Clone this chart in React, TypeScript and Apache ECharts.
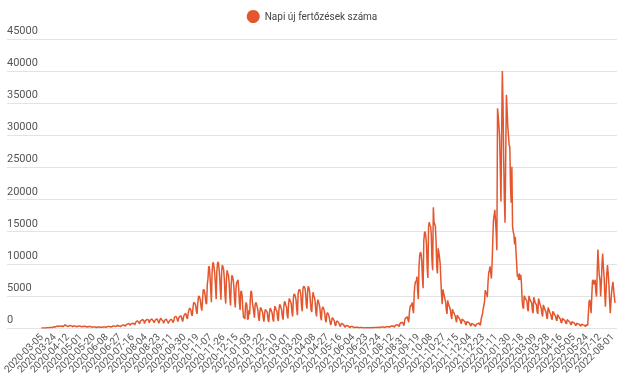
import React, { useEffect, useRef } from "react";
import * as echarts from "echarts";

const SERIES_NAME = "Napi új fertőzések száma";
const LABEL_EVERY = 19;

// 2020-03-05 .. 2020-12-30 (daily)
const wave2020 = [
  3, 4, 6, 7, 10, 15, 17,
  25, 40, 45, 40, 30, 61, 60,
  68, 70, 66, 134, 143, 186, 144,
  123, 263, 293, 192, 308, 254, 250,
  321, 292, 223, 337, 193, 331, 431,
  523, 360, 356, 324, 197, 203, 350,
  400, 332, 305, 296, 162, 329, 303,
  298, 316, 240, 190, 190, 280, 320,
  325, 315, 225, 168, 190, 275, 250,
  240, 280, 220, 190, 150, 200, 250,
  190, 220, 250, 200, 110, 140, 165,
  150, 150, 150, 140, 90, 110, 160,
  180, 160, 140, 115, 110, 130, 160,
  180, 170, 190, 150, 120, 180, 220,
  250, 270, 240, 200, 150, 190, 230,
  320, 330, 300, 250, 220, 300, 460,
  320, 350, 340, 290, 200, 330, 420,
  450, 480, 440, 360, 300, 500, 550,
  600, 650, 690, 580, 430, 600, 650,
  700, 770, 780, 620, 520, 850, 990,
  1100, 1050, 1000, 800, 650, 1100, 1150,
  1200, 1350, 1250, 1150, 690, 1000, 1200,
  1200, 1350, 1300, 1200, 800, 1100, 1300,
  1350, 1400, 1200, 1100, 820, 1050, 1250,
  1350, 1400, 1300, 1050, 750, 1050, 1400,
  1500, 1300, 1200, 1100, 750, 1000, 1250,
  1300, 1400, 1150, 1000, 700, 1000, 1150,
  1300, 1350, 1250, 1050, 850, 1150, 1700,
  1700, 1800, 1650, 1300, 1000, 1500, 1750,
  1800, 1900, 1750, 1300, 1000, 1600, 2000,
  2100, 2300, 2100, 1600, 1400, 2300, 2700,
  3100, 3000, 2800, 2100, 1900, 3100, 4000,
  4000, 3800, 3500, 2600, 2200, 3800, 4800,
  5000, 4700, 4200, 3200, 2700, 4300, 5900,
  6000, 5600, 5000, 3900, 3700, 6800, 7700,
  9500, 9600, 8000, 6000, 4000, 8600, 10100,
  10200, 10200, 8400, 6500, 4500, 8800, 10100,
  10300, 9500, 8100, 6000, 4400, 8800, 9800,
  9500, 9000, 7500, 5000, 3800, 7500, 9000,
  8500, 8200, 7000, 4800, 3500, 6800, 8200,
  8000, 7500, 6200, 4300, 3200, 6200, 7100,
  7200, 7500, 6000, 4000, 2800, 5600, 5800,
  5000, 3000, 1700, 1600, 1400, 3500, 4000,
];

// 2020-12-31 .. 2021-06-23 (daily)
const wave2021Spring = [
  3500, 1300, 1500, 2800, 2100, 4500, 5800,
  5500, 4000, 3300, 2500, 1600, 3500, 4000,
  3800, 3300, 2800, 1700, 1100, 2500, 3200,
  3000, 2700, 2400, 1500, 1000, 2300, 2900,
  2700, 2600, 2300, 1200, 950, 2400, 3100,
  2900, 2600, 2300, 1400, 1000, 2600, 3400,
  3100, 2800, 2600, 1500, 1100, 3000, 3700,
  3500, 3100, 2700, 1700, 1300, 3300, 4100,
  4000, 3500, 3300, 2000, 1500, 3700, 4600,
  4600, 4100, 3700, 2400, 1800, 4600, 5300,
  5200, 4900, 4300, 2900, 2000, 5400, 5900,
  6000, 5800, 5100, 3400, 2600, 6000, 6500,
  6400, 6200, 5300, 3600, 3000, 5900, 6500,
  6200, 5500, 4000, 2800, 2500, 4600, 5600,
  5000, 4700, 4000, 2400, 1800, 3800, 4400,
  4000, 3600, 3000, 1700, 1200, 2900, 3300,
  3100, 2800, 2200, 1200, 900, 2100, 2400,
  2200, 1900, 1400, 700, 500, 1100, 1600,
  1500, 1300, 1100, 500, 350, 900, 1100,
  1000, 900, 700, 350, 250, 600, 700,
  650, 550, 450, 200, 150, 350, 400,
  380, 330, 250, 120, 90, 220, 230,
  230, 200, 150, 70, 40, 120, 140,
  130, 110, 80, 40, 25, 70, 80,
  75, 65, 50, 25, 15, 50, 55,
];

// irregular reporting days, 2021-06-24 .. 2021-07-23
const summer2021 = [45, 40, 50, 30, 45, 50, 55, 40, 60, 70, 55, 75, 80, 60, 90, 100, 75, 110];

// 2021-07-24 .. 2021-12-22 (daily)
const wave2021Autumn = [
  120, 80, 50, 130, 150, 150, 140,
  160, 110, 70, 170, 210, 220, 200,
  230, 160, 100, 250, 300, 310, 290,
  340, 230, 140, 380, 460, 480, 450,
  520, 350, 220, 650, 820, 860, 800,
  900, 600, 380, 1150, 1500, 1650, 1600,
  1750, 1200, 900, 2500, 3300, 3600, 3400,
  4000, 2900, 2300, 5500, 6700, 7300, 7200,
  8000, 5800, 4500, 9500, 11300, 11800, 11600,
  10500, 7800, 6200, 13500, 14800, 15000, 14200,
  13000, 9300, 7800, 15800, 16500, 16000, 15800,
  14500, 10500, 9000, 18800, 16500, 16500, 15800,
  13500, 9500, 8500, 12400, 11800, 11000, 10000,
  7500, 5200, 3700, 6000, 5500, 5000, 4500,
  4000, 2800, 2200, 4300, 3800, 3500, 3200,
  2800, 1900, 1400, 2900, 2600, 2400, 2100,
  1900, 1300, 900, 2000, 1800, 1600, 1500,
  1300, 900, 650, 1400, 1300, 1200, 1100,
  1000, 650, 450, 1000, 950, 900, 850,
  700, 450, 300, 700, 650, 600, 550,
  500, 330, 250, 600, 620, 650, 700,
  800, 500, 450, 1400, 1800, 2200, 3000,
];

// 2021-12-23 .. 2022-02-16 (daily)
const omicronWave = [
  3500, 4200, 5900, 5500, 5300, 4800, 7000,
  8500, 9000, 9600, 9600, 7700, 10000, 13500,
  16800, 17500, 18400, 18400, 15000, 12100, 34200,
  33000, 31600, 29800, 25000, 19700, 30000, 40000,
  35000, 26200, 20000, 16400, 27000, 36300, 34000,
  31400, 30000, 28500, 28200, 22000, 19500, 25100,
  15800, 15000, 14500, 13000, 14200, 12000, 10000,
  8000, 8300, 7500, 8500, 7500, 8300, 7000,
];

// 2022-02-17 .. 2022-05-24 (daily)
const spring2022 = [
  4400, 3300, 3000, 5000, 4800, 4500, 4400,
  4200, 3000, 2600, 5000, 4600, 4300, 4100,
  3900, 2700, 2300, 4800, 4400, 4000, 3800,
  3600, 2500, 2200, 4600, 4200, 3800, 3400,
  3100, 2200, 1800, 3600, 3300, 3000, 2700,
  2500, 1700, 1400, 3200, 2900, 2600, 2300,
  2100, 1500, 1300, 2600, 2400, 2200, 2000,
  1800, 1300, 1100, 2100, 1900, 1700, 1500,
  1400, 900, 800, 1500, 1400, 1300, 1200,
  1100, 750, 650, 1300, 1200, 1100, 1000,
  900, 600, 500, 1000, 900, 850, 800,
  700, 450, 380, 750, 700, 650, 600,
  550, 350, 300, 600, 550, 500, 480,
  450, 280, 220, 500,
];

// 2022-05-25 .. 2022-08-05 (irregular)
const summer2022 = [
  450, 400, 380, 4100, 4400, 3500, 2300,
  5000, 7300, 7500, 6800, 7000, 7500, 5500,
  4900, 9000, 12200, 10000, 8200, 7500, 4900,
  7000, 10000, 11600, 9500, 8000, 5500, 3300,
  6000, 8500, 9800, 8500, 7000, 4500, 2300,
  4000, 5500, 6500, 7200, 6000, 4900, 3900,
];

const gapDates2021 = [
  "2021-06-24", "2021-06-25", "2021-06-28", "2021-06-29", "2021-06-30", "2021-07-01",
  "2021-07-02", "2021-07-05", "2021-07-06", "2021-07-07", "2021-07-08", "2021-07-09",
  "2021-07-12", "2021-07-14", "2021-07-16", "2021-07-19", "2021-07-21", "2021-07-23",
];
const gapDates2022 = [
  "2022-05-25", "2022-05-26", "2022-05-27", "2022-05-31", "2022-06-03", "2022-06-07",
  "2022-06-10", "2022-06-14", "2022-06-17", "2022-06-21", "2022-06-24", "2022-06-28",
  "2022-07-01", "2022-07-04", "2022-07-05", "2022-07-06", "2022-07-07", "2022-07-11",
];
const julyAugDates2022 = [
  "2022-07-12", "2022-07-13", "2022-07-14", "2022-07-15", "2022-07-16", "2022-07-17",
  "2022-07-18", "2022-07-19", "2022-07-20", "2022-07-21", "2022-07-22", "2022-07-23",
  "2022-07-25", "2022-07-26", "2022-07-27", "2022-07-28", "2022-07-29", "2022-07-30",
  "2022-07-31", "2022-08-01", "2022-08-02", "2022-08-03", "2022-08-04", "2022-08-05",
];

function dailyDates(start: string, count: number): string[] {
  const out: string[] = [];
  const t0 = Date.parse(start + "T00:00:00Z");
  for (let i = 0; i < count; i++) {
    out.push(new Date(t0 + i * 86400000).toISOString().slice(0, 10));
  }
  return out;
}

const cases = [
  ...wave2020,
  ...wave2021Spring,
  ...summer2021,
  ...wave2021Autumn,
  ...omicronWave,
  ...spring2022,
  ...summer2022,
];

const dates = [
  ...dailyDates("2020-03-05", wave2020.length + wave2021Spring.length),
  ...gapDates2021,
  ...dailyDates("2021-07-24", wave2021Autumn.length + omicronWave.length + spring2022.length),
  ...gapDates2022,
  ...julyAugDates2022,
];

const LINE_COLOR = "#e4572e";
const FONT = "Roboto, 'Noto Sans', sans-serif";

export default function App() {
  const ref = useRef<HTMLDivElement>(null);
  useEffect(() => {
    if (!ref.current) return;
    const chart = echarts.init(ref.current, undefined, { renderer: "svg" });
    chart.setOption({
      animation: false,
      textStyle: { fontFamily: FONT },
      legend: {
        data: [SERIES_NAME],
        top: 5,
        left: "center",
        icon: "circle",
        itemWidth: 13,
        itemHeight: 13,
        itemGap: 6,
        textStyle: { fontSize: 10, color: "#444", fontFamily: FONT },
      },
      grid: [
        { left: 7, right: 7, top: 39, bottom: 57 },
        { left: 40, right: 9, top: 39, bottom: 57 },
      ],
      xAxis: [
        { gridIndex: 0, type: "value", show: false, min: 0, max: 1 },
        {
          gridIndex: 1,
          type: "category",
          data: dates,
          boundaryGap: false,
          axisLine: { show: false },
          axisTick: { show: false },
          splitLine: { show: false },
          axisLabel: {
            interval: 0,
            rotate: 45,
            fontSize: 10,
            color: "#555",
            margin: 7,
            hideOverlap: false,
            fontFamily: FONT,
            formatter: (value: string, index: number) =>
              index % LABEL_EVERY === 0 ? value : "",
          },
        },
      ],
      yAxis: [
        {
          gridIndex: 0,
          type: "value",
          min: 0,
          max: 45000,
          interval: 5000,
          axisLine: { show: false },
          axisTick: { show: false },
          splitLine: { lineStyle: { color: "#e3e3e3" } },
          axisLabel: {
            inside: true,
            margin: 0,
            verticalAlign: "bottom",
            padding: [0, 0, 3, 0],
            fontSize: 11,
            color: "#555",
            fontFamily: FONT,
            formatter: (v: number) => String(v),
          },
        },
        { gridIndex: 1, type: "value", min: 0, max: 45000, show: false },
      ],
      series: [
        {
          name: SERIES_NAME,
          type: "line",
          xAxisIndex: 1,
          yAxisIndex: 1,
          data: cases,
          showSymbol: false,
          symbol: "circle",
          lineStyle: { width: 1.5, color: LINE_COLOR },
          itemStyle: { color: LINE_COLOR },
        },
      ],
    });
    return () => chart.dispose();
  }, []);
  return (
    <div
      ref={ref}
      style={{ position: "fixed", left: 0, top: 0, width: 624, height: 385 }}
    />
  );
}
